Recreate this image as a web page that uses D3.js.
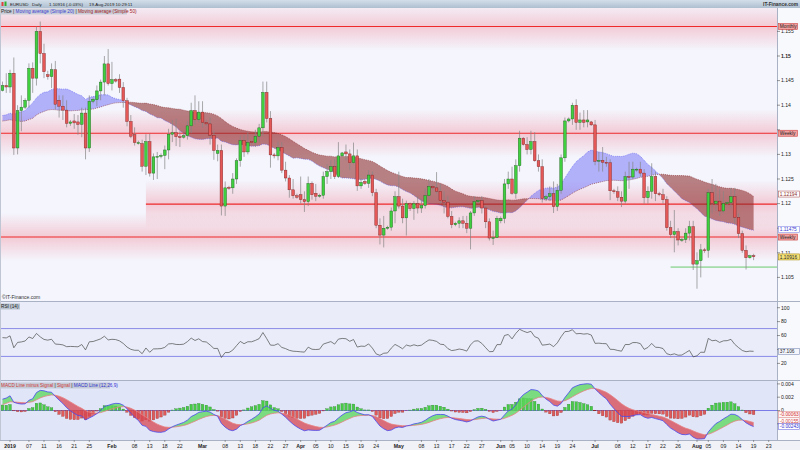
<!DOCTYPE html>
<html><head><meta charset="utf-8">
<script src="https://cdn.jsdelivr.net/npm/d3@7/dist/d3.min.js"></script>
<style>
html,body{margin:0;padding:0;background:#fff;}
svg{display:block;font-family:"Liberation Sans",Arial,sans-serif;}
</style></head><body>
<svg id="chart" width="800" height="450"></svg>
<script>
// ---------------- DATA ----------------
// closes before the first visible candle (used only to warm up indicators)
const priorClose = [1.1400,1.1370,1.1345,1.1312,1.1408,1.1388,
1.1383,1.1406,1.1429,1.1432,1.1364,1.1335,
1.1320,1.1217,1.1293,1.1313,1.1326,1.1418,
1.1420,1.1456,1.1368,1.1406,1.1403,1.1336,
1.1340,1.1330,1.1289,1.1370,1.1394,1.1317,
1.1345,1.1352,1.1342,1.1342,1.1376,1.1406,
1.1400,1.1354,1.1317,1.1368,1.1363,1.1307,
1.1310,1.1348,1.1361,1.1381,1.1442,1.1371,
1.1375,1.1403,1.1404,1.1353,1.1432,1.1443];

// daily candles from 2018-12-30 (Saturdays excluded)
const open = [1.1430,1.1440,1.1437,1.1465,1.1313,1.1389,1.1396,1.1410,1.1475,1.1455,1.1550,1.1505,1.1462,1.1458,1.1472,1.1410,1.1398,1.1390,1.1363,1.1368,
1.1366,1.1361,1.1384,1.1313,1.1408,1.1411,1.1429,1.1447,1.1484,1.1444,1.1452,1.1453,1.1436,1.1409,1.1367,1.1340,1.1324,1.1322,1.1276,1.1326,
1.1262,1.1295,1.1296,1.1298,1.1309,1.1341,1.1344,1.1336,1.1335,1.1338,1.1358,1.1389,1.1371,1.1386,1.1365,1.1362,1.1339,1.1302,1.1308,1.1195,
1.1233,1.1232,1.1250,1.1287,1.1328,1.1305,1.1326,1.1324,1.1337,1.1354,1.1426,1.1373,1.1299,1.1297,1.1314,1.1268,1.1252,1.1228,1.1216,1.1218,
1.1208,1.1204,1.1241,1.1221,1.1215,1.1217,1.1255,1.1265,1.1275,1.1255,1.1297,1.1305,1.1301,1.1283,1.1297,1.1236,1.1245,1.1241,1.1258,1.1222,
1.1156,1.1136,1.1150,1.1152,1.1185,1.1214,1.1195,1.1171,1.1200,1.1190,1.1200,1.1191,1.1196,1.1216,1.1235,1.1232,1.1225,1.1206,1.1203,1.1174,
1.1157,1.1160,1.1165,1.1160,1.1150,1.1181,1.1204,1.1206,1.1191,1.1163,1.1130,1.1131,1.1165,1.1170,1.1240,1.1250,1.1221,1.1277,1.1333,1.1320,
1.1310,1.1326,1.1287,1.1275,1.1210,1.1214,1.1220,1.1194,1.1227,1.1293,1.1368,1.1372,1.1400,1.1365,1.1370,1.1366,1.1366,1.1360,1.1286,1.1288,
1.1284,1.1283,1.1226,1.1224,1.1213,1.1205,1.1255,1.1254,1.1270,1.1270,1.1262,1.1212,1.1225,1.1255,1.1220,1.1218,1.1208,1.1151,1.1137,1.1143,
1.1126,1.1127,1.1140,1.1153,1.1077,1.1084,1.1106,1.1105,1.1222,1.1200,1.1205,1.1185,1.1200,1.1202,1.1214,1.1172,1.1139,1.1105,1.1090,1.1094];
const high = [1.1448,1.1465,1.1472,1.1497,1.1400,1.1420,1.1414,1.1485,1.1487,1.1560,1.1570,1.1525,1.1470,1.1485,1.1490,1.1420,1.1420,1.1410,1.1370,1.1382,
1.1380,1.1395,1.1395,1.1420,1.1416,1.1440,1.1452,1.1500,1.1514,1.1488,1.1455,1.1463,1.1447,1.1415,1.1380,1.1355,1.1328,1.1330,1.1341,1.1342,
1.1302,1.1305,1.1302,1.1318,1.1352,1.1370,1.1372,1.1347,1.1342,1.1368,1.1405,1.1420,1.1408,1.1408,1.1370,1.1375,1.1348,1.1320,1.1320,1.1245,
1.1236,1.1262,1.1292,1.1338,1.1340,1.1345,1.1328,1.1350,1.1362,1.1448,1.1448,1.1388,1.1303,1.1326,1.1325,1.1285,1.1258,1.1250,1.1220,1.1255,
1.1225,1.1255,1.1245,1.1240,1.1220,1.1265,1.1280,1.1288,1.1290,1.1325,1.1305,1.1320,1.1310,1.1324,1.1310,1.1252,1.1248,1.1268,1.1265,1.1230,
1.1170,1.1175,1.1155,1.1192,1.1225,1.1265,1.1210,1.1206,1.1202,1.1205,1.1215,1.1210,1.1230,1.1250,1.1238,1.1264,1.1240,1.1225,1.1215,1.1185,
1.1163,1.1172,1.1175,1.1175,1.1185,1.1215,1.1208,1.1215,1.1195,1.1170,1.1145,1.1175,1.1174,1.1250,1.1265,1.1275,1.1290,1.1348,1.1335,1.1335,
1.1348,1.1345,1.1300,1.1290,1.1218,1.1235,1.1245,1.1240,1.1300,1.1375,1.1375,1.1405,1.1412,1.1385,1.1390,1.1390,1.1368,1.1370,1.1305,1.1315,
1.1295,1.1290,1.1230,1.1235,1.1225,1.1265,1.1285,1.1285,1.1273,1.1285,1.1270,1.1235,1.1282,1.1265,1.1224,1.1230,1.1215,1.1165,1.1187,1.1150,
1.1130,1.1150,1.1165,1.1165,1.1101,1.1118,1.1110,1.1230,1.1250,1.1240,1.1230,1.1225,1.1205,1.1232,1.1232,1.1180,1.1145,1.1115,1.1096,1.1098];
const low = [1.1428,1.1425,1.1425,1.1299,1.1300,1.1347,1.1392,1.1395,1.1425,1.1440,1.1485,1.1455,1.1452,1.1435,1.1392,1.1375,1.1370,1.1355,1.1358,1.1352,
1.1340,1.1335,1.1290,1.1305,1.1404,1.1398,1.1410,1.1420,1.1440,1.1430,1.1446,1.1425,1.1395,1.1357,1.1333,1.1318,1.1320,1.1265,1.1258,1.1255,
1.1248,1.1250,1.1292,1.1270,1.1290,1.1325,1.1317,1.1315,1.1332,1.1330,1.1343,1.1360,1.1365,1.1355,1.1358,1.1320,1.1289,1.1286,1.1176,1.1175,
1.1228,1.1220,1.1240,1.1275,1.1295,1.1300,1.1320,1.1315,1.1325,1.1338,1.1365,1.1273,1.1292,1.1288,1.1262,1.1245,1.1212,1.1210,1.1210,1.1200,
1.1183,1.1195,1.1208,1.1205,1.1212,1.1210,1.1240,1.1250,1.1250,1.1252,1.1295,1.1288,1.1268,1.1280,1.1226,1.1230,1.1238,1.1232,1.1215,1.1150,
1.1117,1.1111,1.1147,1.1145,1.1160,1.1190,1.1160,1.1135,1.1185,1.1167,1.1180,1.1181,1.1190,1.1205,1.1228,1.1220,1.1200,1.1180,1.1170,1.1150,
1.1154,1.1150,1.1150,1.1140,1.1107,1.1175,1.1200,1.1180,1.1150,1.1125,1.1116,1.1130,1.1160,1.1160,1.1230,1.1218,1.1210,1.1265,1.1318,1.1300,
1.1300,1.1285,1.1265,1.1202,1.1205,1.1205,1.1181,1.1185,1.1220,1.1285,1.1365,1.1360,1.1350,1.1350,1.1355,1.1355,1.1358,1.1278,1.1265,1.1265,
1.1275,1.1207,1.1220,1.1205,1.1193,1.1200,1.1230,1.1250,1.1265,1.1255,1.1200,1.1200,1.1210,1.1205,1.1215,1.1200,1.1145,1.1130,1.1101,1.1115,
1.1122,1.1120,1.1125,1.1065,1.1027,1.1050,1.1100,1.1090,1.1180,1.1185,1.1175,1.1180,1.1196,1.1190,1.1160,1.1130,1.1100,1.1066,1.1088,1.1085];
const close = [1.1440,1.1437,1.1465,1.1313,1.1389,1.1396,1.1410,1.1475,1.1455,1.1550,1.1505,1.1468,1.1458,1.1472,1.1402,1.1398,1.1390,1.1363,1.1366,1.1364,
1.1361,1.1384,1.1313,1.1408,1.1412,1.1429,1.1447,1.1484,1.1444,1.1452,1.1449,1.1436,1.1409,1.1367,1.1337,1.1324,1.1324,1.1276,1.1326,1.1262,
1.1295,1.1296,1.1298,1.1309,1.1341,1.1344,1.1336,1.1335,1.1338,1.1358,1.1389,1.1371,1.1386,1.1365,1.1362,1.1339,1.1308,1.1308,1.1195,1.1232,
1.1232,1.1250,1.1287,1.1328,1.1305,1.1324,1.1324,1.1337,1.1354,1.1426,1.1373,1.1299,1.1297,1.1314,1.1268,1.1252,1.1228,1.1216,1.1213,1.1208,
1.1204,1.1241,1.1218,1.1215,1.1217,1.1255,1.1265,1.1275,1.1255,1.1297,1.1303,1.1301,1.1283,1.1297,1.1236,1.1243,1.1241,1.1258,1.1222,1.1156,
1.1136,1.1150,1.1152,1.1185,1.1214,1.1195,1.1171,1.1200,1.1190,1.1200,1.1191,1.1196,1.1216,1.1235,1.1232,1.1225,1.1206,1.1203,1.1174,1.1157,
1.1160,1.1165,1.1160,1.1150,1.1181,1.1204,1.1206,1.1191,1.1163,1.1130,1.1131,1.1170,1.1170,1.1240,1.1250,1.1221,1.1277,1.1333,1.1320,1.1310,
1.1326,1.1287,1.1275,1.1210,1.1214,1.1220,1.1194,1.1227,1.1293,1.1368,1.1372,1.1400,1.1365,1.1370,1.1365,1.1370,1.1360,1.1286,1.1288,1.1284,
1.1283,1.1226,1.1224,1.1213,1.1205,1.1255,1.1254,1.1270,1.1270,1.1262,1.1212,1.1225,1.1255,1.1220,1.1218,1.1208,1.1151,1.1137,1.1143,1.1126,
1.1127,1.1140,1.1153,1.1077,1.1084,1.1106,1.1105,1.1222,1.1200,1.1205,1.1185,1.1200,1.1202,1.1214,1.1172,1.1139,1.1105,1.1090,1.1094,1.1092];

const tickDates = ["2019-01-01","2019-01-07","2019-01-11","2019-01-16","2019-01-21","2019-01-25","2019-02-01","2019-02-08","2019-02-13","2019-02-18","2019-02-22",
"2019-03-01","2019-03-08","2019-03-13","2019-03-18","2019-03-22","2019-03-27","2019-04-01","2019-04-05","2019-04-10","2019-04-15","2019-04-19","2019-04-24",
"2019-05-01","2019-05-08","2019-05-13","2019-05-17","2019-05-22","2019-05-27","2019-06-02","2019-06-05","2019-06-10","2019-06-14","2019-06-19","2019-06-24",
"2019-07-01","2019-07-08","2019-07-12","2019-07-17","2019-07-22","2019-07-26","2019-08-01","2019-08-05","2019-08-09","2019-08-14","2019-08-19","2019-08-23"];
const tickLabels = ["2019","07","11","16","21","25","Feb","08","13","18","22","Mar","08","13","18","22","27","Apr","05","10","15","19","24",
"May","08","13","17","22","27","Jun","05","10","14","19","24","Jul","08","12","17","22","26","Aug","05","09","14","19","23"];
const boldLabels = ["2019","Feb","Mar","Apr","May","Jun","Jul","Aug"];

const priceTicks = [1.105,1.11,1.115,1.12,1.125,1.13,1.135,1.14,1.145,1.15,1.155];
const rsiTicks = [20,40,60,80,100];
const macdTicks = [-0.002,0,0.002,0.004];

const levelPrice = [1.1560,1.1343,1.1199,1.1132];
const levelName = ["Monthly","Weekly","","Weekly"];
const levelFrom = ["2018-12-30","2018-12-30","2019-02-12","2018-12-30"];
const supportPrice = 1.1071, supportFrom = "2019-07-24";

const lastPrice = 1.10916, lastMA20 = 1.11475, lastMA50 = 1.12194;
const lastRSI = 37.106, lastHist = -0.00063, lastSignal = -0.00155, lastMACD = -0.00243;

// ---------------- SETUP ----------------
const W=800,H=450,PX=777;
const svg=d3.select("#chart");
const defs=svg.append("defs");
const fmt=d3.timeFormat("%Y-%m-%d");
const days=d3.timeDay.range(new Date(2018,11,30),new Date(2019,8,2)).filter(d=>d.getDay()!==6);
const dayIdx=new Map(days.map((d,i)=>[fmt(d),i]));

const x=d3.scaleLinear().domain([-0.66,205.2]).range([0,PX]);
const y=d3.scaleLinear().domain([1.105,1.15]).range([277.4,56]);
const yR=d3.scaleLinear().domain([0,100]).range([377.3,307.7]);
const yM=d3.scaleLinear().domain([0,0.004]).range([410.5,383.9]);

// indicators
const all=priorClose.concat(close), P=priorClose.length;
const sma=n=>close.map((_,i)=>d3.mean(all.slice(P+i-n+1,P+i+1)));
const ma20=sma(20), ma50=sma(50);
function ema(arr,n){const a=2/(n+1),o=[];arr.forEach((v,k)=>o.push(k?a*v+(1-a)*o[k-1]:v));return o;}
const e12=ema(all,12),e26=ema(all,26);
const macdAll=all.map((v,k)=>e12[k]-e26[k]);
const sigAll=ema(macdAll,9);
const macd=close.map((_,i)=>macdAll[P+i]), sig=close.map((_,i)=>sigAll[P+i]);
const hist=macd.map((v,i)=>v-sig[i]);
const rsiAll=[];let ag=0,al=0;
for(let k=1;k<all.length;k++){const ch=all[k]-all[k-1],g=Math.max(ch,0),l=Math.max(-ch,0);
  if(k<=14){ag+=g/14;al+=l/14;}else{ag=(ag*13+g)/14;al=(al*13+l)/14;}
  rsiAll[k]=al===0?100:100-100/(1+ag/al);}
const rsi=close.map((_,i)=>rsiAll[P+i]);

// ---------------- BACKGROUNDS ----------------
svg.append("rect").attr("width",W).attr("height",H).attr("fill","#f8f9fc");
svg.append("rect").attr("x",0).attr("y",8).attr("width",PX).attr("height",293).attr("fill","#f4f5fd");
svg.append("rect").attr("x",0).attr("y",302).attr("width",PX).attr("height",78).attr("fill","#eaedf9");
svg.append("rect").attr("x",0).attr("y",381).attr("width",PX).attr("height",59).attr("fill","#e0e6f8");
svg.append("rect").attr("x",0).attr("y",440).attr("width",W).attr("height",10).attr("fill","#f1f2f7");

function clip(id,y0,h){defs.append("clipPath").attr("id",id).append("rect").attr("x",0).attr("y",y0).attr("width",PX).attr("height",h);}
clip("cMain",8,293);clip("cRsi",302,78);clip("cMacd",381,59);

const gr=defs.append("linearGradient").attr("id","glow").attr("x1",0).attr("x2",0).attr("y1",0).attr("y2",1);
[[0,0],[0.5,0.32],[1,0]].forEach(s=>gr.append("stop").attr("offset",s[0]).attr("stop-color","#f07080").attr("stop-opacity",s[1]));

const main=svg.append("g").attr("clip-path","url(#cMain)");

// level glows + lines
levelPrice.forEach((p,k)=>{
  const x0=k===2?x(dayIdx.get(levelFrom[k])):0;
  main.append("rect").attr("x",x0).attr("y",y(p)-24).attr("width",PX-x0).attr("height",48).attr("fill","url(#glow)");
});
levelPrice.forEach((p,k)=>{
  const x0=k===2?x(dayIdx.get(levelFrom[k])):0;
  main.append("line").attr("x1",x0).attr("x2",PX).attr("y1",y(p)).attr("y2",y(p)).attr("stroke","#ee2a2a").attr("stroke-width",1.1);
});
main.append("line").attr("x1",x(dayIdx.get(supportFrom))).attr("x2",PX).attr("y1",y(supportPrice)).attr("y2",y(supportPrice))
  .attr("stroke","#6cc86c").attr("stroke-width",1);

// MA band with crossings
function bandRuns(a,b){
  const pts=[];
  for(let i=0;i<a.length;i++){
    pts.push({i,a:a[i],b:b[i]});
    if(i<a.length-1){const d0=a[i]-b[i],d1=a[i+1]-b[i+1];
      if(d0*d1<0){const t=d0/(d0-d1);const v=a[i]+t*(a[i+1]-a[i]);pts.push({i:i+t,a:v,b:v,cross:true});}}
  }
  const runs=[];let cur=[];
  pts.forEach(p=>{cur.push(p);if(p.cross){runs.push(cur);cur=[p];}});
  runs.push(cur);
  return runs.map(r=>{const m=r.find(p=>!p.cross);return {pts:r,up:m? m.a>=m.b:true};});
}
const areaP=d3.area().x(d=>x(d.i)).y0(d=>y(d.b)).y1(d=>y(d.a));
bandRuns(ma20,ma50).forEach(r=>{
  main.append("path").attr("d",areaP(r.pts)).attr("fill",r.up?"rgba(110,110,248,0.50)":"rgba(140,45,45,0.58)");
});
const lineP=d3.line().x((d,i)=>x(i)).y(d=>y(d));
main.append("path").attr("d",lineP(ma20)).attr("fill","none").attr("stroke","#5a5af0").attr("stroke-width",0.6).attr("stroke-dasharray","1,1");
main.append("path").attr("d",lineP(ma50)).attr("fill","none").attr("stroke","#8a2e2e").attr("stroke-width",0.6).attr("stroke-dasharray","1,1");

// candles
const cg=main.append("g");
close.forEach((c,i)=>{
  const o=open[i],up=c>=o,cx=x(i);
  cg.append("line").attr("x1",cx).attr("x2",cx).attr("y1",y(high[i])).attr("y2",y(low[i])).attr("stroke","#858585").attr("stroke-width",0.7);
  const top=y(Math.max(o,c)),h=Math.max(0.9,Math.abs(y(o)-y(c)));
  cg.append("rect").attr("x",cx-1.35).attr("y",top).attr("width",2.7).attr("height",h)
    .attr("fill",up?"#3fcf3f":"#e45858").attr("stroke",up?"#1f5f1f":"#7a2020").attr("stroke-width",0.4);
});

svg.append("text").attr("x",2).attr("y",299).attr("font-size",5).attr("fill","#333").text("©IT-Finance.com");

// ---------------- RSI ----------------
const rg=svg.append("g").attr("clip-path","url(#cRsi)");
[70,30].forEach(v=>rg.append("line").attr("x1",0).attr("x2",PX).attr("y1",yR(v)).attr("y2",yR(v)).attr("stroke","#8a8ae8").attr("stroke-width",1));
rg.append("path").attr("d",d3.line().x((d,i)=>x(i)).y(d=>yR(d))(rsi)).attr("fill","none").attr("stroke","#4a4a4a").attr("stroke-width",0.7);

// ---------------- MACD ----------------
const mg=svg.append("g").attr("clip-path","url(#cMacd)");
mg.append("line").attr("x1",0).attr("x2",PX).attr("y1",yM(0)).attr("y2",yM(0)).attr("stroke","#7a7ae8").attr("stroke-width",1);
hist.forEach((h,i)=>{
  mg.append("rect").attr("x",x(i)-1.3).attr("width",2.6).attr("y",Math.min(yM(0),yM(h))).attr("height",Math.abs(yM(h)-yM(0)))
    .attr("fill",h>=0?"#48cc48":"#e05a5a").attr("stroke",h>=0?"#2a7a2a":"#8a2a2a").attr("stroke-width",0.3);
});
const areaM=d3.area().x(d=>x(d.i)).y0(d=>yM(d.b)).y1(d=>yM(d.a));
bandRuns(macd,sig).forEach(r=>{
  mg.append("path").attr("d",areaM(r.pts)).attr("fill",r.up?"rgba(90,215,90,0.75)":"rgba(215,70,80,0.75)");
});
mg.append("path").attr("d",d3.line().x((d,i)=>x(i)).y(d=>yM(d))(sig)).attr("fill","none").attr("stroke","#e88080").attr("stroke-width",0.8);
mg.append("path").attr("d",d3.line().x((d,i)=>x(i)).y(d=>yM(d))(macd)).attr("fill","none").attr("stroke","#4848f0").attr("stroke-width",0.8);

// ---------------- FRAME ----------------
[301.5,380.5,440.5].forEach(v=>svg.append("line").attr("x1",0).attr("x2",W).attr("y1",v).attr("y2",v).attr("stroke","#a9b2c4").attr("stroke-width",1));
svg.append("line").attr("x1",PX+0.5).attr("x2",PX+0.5).attr("y1",8).attr("y2",440).attr("stroke","#a9b2c4").attr("stroke-width",1);
svg.append("line").attr("x1",0.5).attr("x2",0.5).attr("y1",8).attr("y2",440).attr("stroke","#c0c6d4").attr("stroke-width",1);

// value boxes (drawn after ticks); collect their y so hidden tick labels are skipped
const boxes=[];
levelPrice.forEach((p,k)=>{ if(levelName[k]) boxes.push({y:y(p),t:levelName[k],f:"#f2a0a0",s:"#c44",c:"#222",w:19}); });
boxes.push({y:y(lastMA50),t:String(lastMA50),f:"#fff",s:"#b46060",c:"#8a2a2a"});
boxes.push({y:y(lastMA20),t:String(lastMA20),f:"#fff",s:"#8a8ae6",c:"#3a3ad0"});
boxes.push({y:y(lastPrice),t:String(lastPrice),f:"#f6e27a",s:"#a88a10",c:"#222"});
boxes.push({y:yR(lastRSI),t:String(lastRSI),f:"#f4f6fc",s:"#8090b8",c:"#222"});
boxes.push({y:yM(lastHist),t:lastHist.toFixed(5),f:"#fff4f4",s:"#e09090",c:"#d03030"});
boxes.push({y:yM(lastSignal),t:lastSignal.toFixed(5),f:"#fff",s:"#e0a0a0",c:"#d04040"});
boxes.push({y:yM(lastMACD),t:lastMACD.toFixed(5),f:"#fff",s:"#7070e0",c:"#3030d0"});

function rightAxis(scale,ticks,fmtf,boldTest){
  const g=svg.append("g").attr("transform",`translate(${PX},0)`);
  ticks.forEach(t=>{
    const ty=scale(t);
    g.append("line").attr("x1",0).attr("x2",3).attr("y1",ty).attr("y2",ty).attr("stroke","#555").attr("stroke-width",0.6);
    if(boxes.some(b=>Math.abs(b.y-ty)<4)) return;
    g.append("text").attr("x",4).attr("y",ty+1.8).attr("font-size",5.1).attr("fill","#222")
      .attr("font-weight",boldTest&&boldTest(t)?"bold":"normal").text(fmtf(t));
  });
}
rightAxis(y,priceTicks,t=>String(+t.toFixed(3)),t=>Math.abs(t-1.15)<1e-9);
rightAxis(yR,rsiTicks,t=>String(t));
rightAxis(yM,macdTicks,t=>String(+t.toFixed(3)));

boxes.forEach(b=>{
  svg.append("rect").attr("x",PX+1.5).attr("y",b.y-3).attr("width",b.w||21).attr("height",6).attr("fill",b.f).attr("stroke",b.s).attr("stroke-width",0.6);
  svg.append("text").attr("x",PX+2.8).attr("y",b.y+1.7).attr("font-size",4.8).attr("fill",b.c).text(b.t);
});

// x axis
const xg=svg.append("g");
tickDates.forEach((d,k)=>{
  const xi=x(dayIdx.get(d));
  xg.append("line").attr("x1",xi).attr("x2",xi).attr("y1",440).attr("y2",442).attr("stroke","#666").attr("stroke-width",0.6);
  xg.append("text").attr("x",xi).attr("y",447.5).attr("text-anchor","middle").attr("font-size",5.2)
    .attr("font-weight",boldLabels.includes(tickLabels[k])?"bold":"normal").attr("fill","#222").text(tickLabels[k]);
});

// ---------------- HEADER ----------------
const hg=defs.append("linearGradient").attr("id","hdr").attr("x1",0).attr("x2",0).attr("y1",0).attr("y2",1);
hg.append("stop").attr("offset",0).attr("stop-color","#d3dfea");hg.append("stop").attr("offset",1).attr("stop-color","#aebfd0");
svg.append("rect").attr("x",0).attr("y",0).attr("width",W).attr("height",8).attr("fill","url(#hdr)");
svg.append("rect").attr("x",1.5).attr("y",2).attr("width",2).attr("height",4).attr("fill","#e04040");
svg.append("rect").attr("x",4.5).attr("y",1.5).attr("width",2).attr("height",4.5).attr("fill","#30b030");
const hdr=[["EURUSD",10],["Daily",32],["1.10916 (-0.03%)",49],["19-Aug-2019 10:29:11",89]];
hdr.forEach(h=>svg.append("text").attr("x",h[1]).attr("y",5.7).attr("font-size",4.4).attr("fill","#1a1a1a").text(h[0]));
svg.append("text").attr("x",798).attr("y",5.7).attr("text-anchor","end").attr("font-size",4.8).attr("font-weight","bold").attr("fill","#333").text("IT-Finance.com");

svg.append("rect").attr("x",0).attr("y",8.5).attr("width",127).attr("height",6).attr("fill","#c9cdd8");
const lt=svg.append("text").attr("x",1).attr("y",13.2).attr("font-size",4.7);
lt.append("tspan").attr("fill","#222").text("Price | ");
lt.append("tspan").attr("fill","#4040d0").text("Moving average (Simple 20)");
lt.append("tspan").attr("fill","#222").text(" | ");
lt.append("tspan").attr("fill","#a02020").text("Moving average (Simple 50)");

svg.append("rect").attr("x",0).attr("y",303.5).attr("width",20).attr("height",6).attr("fill","#b9c3cf");
svg.append("text").attr("x",1).attr("y",308.2).attr("font-size",4.7).attr("fill","#222").text("RSI (14)");

svg.append("rect").attr("x",0).attr("y",382.5).attr("width",110).attr("height",6).attr("fill","#c4cad6");
const mt=svg.append("text").attr("x",1).attr("y",387.2).attr("font-size",4.7);
mt.append("tspan").attr("fill","#d03a3a").text("MACD Line minus Signal");
mt.append("tspan").attr("fill","#222").text(" | ");
mt.append("tspan").attr("fill","#d03a3a").text("Signal");
mt.append("tspan").attr("fill","#222").text(" | ");
mt.append("tspan").attr("fill","#3030d0").text("MACD Line (12,26,9)");
</script>
</body></html>
